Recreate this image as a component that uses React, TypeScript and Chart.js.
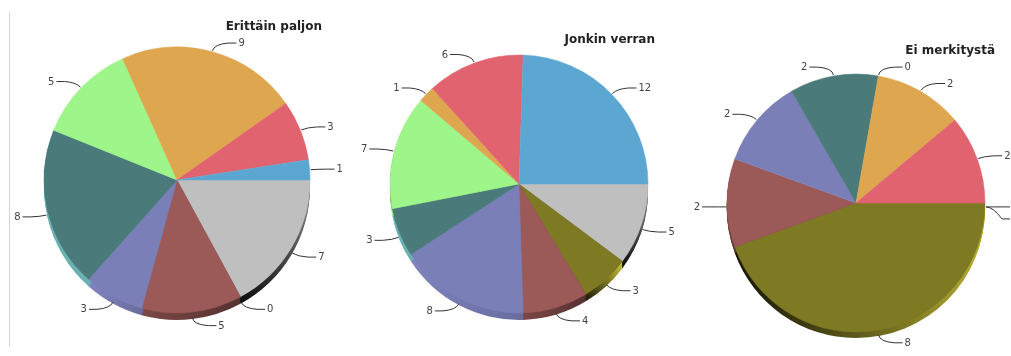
import React, { useEffect, useRef } from "react";
import { Chart, registerables } from "chart.js";

Chart.register(...registerables);

// Categories, listed counter-clockwise from the 3 o'clock position
const categories = [
  "Vaihtoehto 1",
  "Vaihtoehto 2",
  "Vaihtoehto 3",
  "Vaihtoehto 4",
  "Vaihtoehto 5",
  "Vaihtoehto 6",
  "Vaihtoehto 7",
  "Vaihtoehto 8",
  "Vaihtoehto 9",
];
const sliceColors = [
  "#5ca6d2",
  "#e0636f",
  "#dea74f",
  "#9ef589",
  "#4a7a7a",
  "#7a7fb8",
  "#9b5a58",
  "#7e7923",
  "#bfbfbf",
];
// shading of the 3D rim: [factor at slice start, factor at slice end] (counter-clockwise)
const rimShades: [number, number][] = [
  [0.6, 1.0],
  [0.6, 1.0],
  [0.6, 1.0],
  [0.6, 1.0],
  [1.45, 1.45],
  [1.05, 0.85],
  [0.8, 0.55],
  [0.2, 1.5],
  [0.05, 0.75],
];

const titles = ["Erittäin paljon", "Jonkin verran", "Ei merkitystä"];
const valuesErittainPaljon = [1, 3, 9, 5, 8, 3, 5, 0, 7];
const valuesJonkinVerran = [12, 6, 1, 7, 3, 8, 4, 3, 5];
const valuesEiMerkitysta = [0, 2, 2, 0, 2, 2, 2, 8, 0];

const W = 1011;
const H = 356;

const layouts = [
  { cx: 177, cy: 180, r: 133, depth: 7, titleX: 322, titleY: 30 },
  { cx: 519, cy: 184, r: 129, depth: 7, titleX: 655, titleY: 43 },
  { cx: 856, cy: 203, r: 129, depth: 6, titleX: 995, titleY: 54 },
];

function shade(hex: string, f: number): string {
  const n = parseInt(hex.slice(1), 16);
  const r = Math.min(255, Math.round(((n >> 16) & 255) * f));
  const g = Math.min(255, Math.round(((n >> 8) & 255) * f));
  const b = Math.min(255, Math.round((n & 255) * f));
  return `rgb(${r},${g},${b})`;
}

function makePlugin(idx: number) {
  const L = layouts[idx];
  const n = categories.length;
  return {
    id: "pie3d" + idx,
    beforeDatasetsDraw(chart: any) {
      const meta = chart.getDatasetMeta(0);
      const ctx = chart.ctx;
      const depth = L.depth;
      ctx.save();
      meta.data.forEach((arc: any, i: number) => {
        const p = arc.getProps(["x", "y", "startAngle", "endAngle", "outerRadius"], true);
        const s = p.startAngle;
        const e = p.endAngle;
        if (e - s <= 1e-6) return;
        const a0 = Math.max(s, 0);
        const a1 = Math.min(e, Math.PI);
        if (a1 <= a0) return;
        const R = p.outerRadius;
        const col = arc.options.backgroundColor as string;
        const [fStart, fEnd] = rimShades[n - 1 - i];
        // counter-clockwise start is canvas angle a1, end is a0
        const g = ctx.createLinearGradient(
          p.x + R * Math.cos(a1),
          p.y + R * Math.sin(a1) + depth,
          p.x + R * Math.cos(a0) + 0.01,
          p.y + R * Math.sin(a0) + depth
        );
        g.addColorStop(0, shade(col, fStart));
        g.addColorStop(1, shade(col, fEnd));
        ctx.fillStyle = g;
        for (let d = depth; d >= 1; d--) {
          ctx.beginPath();
          ctx.moveTo(p.x, p.y + d);
          ctx.arc(p.x, p.y + d, R, s, e);
          ctx.closePath();
          ctx.fill();
        }
      });
      ctx.restore();
    },
    afterDatasetsDraw(chart: any) {
      const meta = chart.getDatasetMeta(0);
      const ctx = chart.ctx;
      const values = chart.data.datasets[0].data as number[];
      const items: any[] = [];
      meta.data.forEach((arc: any, i: number) => {
        const p = arc.getProps(["x", "y", "startAngle", "endAngle", "outerRadius"], true);
        const mid = (p.startAngle + p.endAngle) / 2;
        const c = Math.cos(mid);
        const sc = Math.sin(mid);
        const up = -sc;
        const R = p.outerRadius + 1;
        const sx = p.x + R * c;
        let sy = p.y + R * sc;
        if (up < 0.01) sy += L.depth * 0.65;
        const side = c >= 0 ? 1 : -1;
        const ex = sx + side * 24;
        const ey = sy - up * 8;
        items.push({ sx, sy, ex, ey, side, c, sc, text: String(values[i]) });
      });
      // simple collision avoidance per side
      [1, -1].forEach((sd) => {
        const list = items.filter((it) => it.side === sd).sort((a, b) => a.ey - b.ey);
        for (let k = 1; k < list.length; k++) {
          if (list[k].ey < list[k - 1].ey + 12) list[k].ey = list[k - 1].ey + 12;
        }
      });
      ctx.save();
      ctx.strokeStyle = "#333";
      ctx.lineWidth = 1;
      ctx.font = "10px 'DejaVu Sans'";
      ctx.fillStyle = "#444";
      ctx.textBaseline = "middle";
      items.forEach((it) => {
        ctx.beginPath();
        ctx.moveTo(it.sx, it.sy);
        ctx.quadraticCurveTo(it.sx + it.c * 7, it.sy + it.sc * 7, it.ex - it.side * 8, it.ey);
        ctx.lineTo(it.ex, it.ey);
        ctx.stroke();
        ctx.textAlign = it.side > 0 ? "left" : "right";
        ctx.fillText(it.text, it.ex + it.side * 2, it.ey + 0.5);
      });
      ctx.font = "bold 12px 'DejaVu Sans'";
      ctx.fillStyle = "#222";
      ctx.textAlign = "right";
      ctx.textBaseline = "alphabetic";
      ctx.fillText(titles[idx], L.titleX, L.titleY);
      ctx.restore();
    },
  };
}

const allValues = [valuesErittainPaljon, valuesJonkinVerran, valuesEiMerkitysta];

export default function App() {
  const refs = [useRef<HTMLCanvasElement>(null), useRef<HTMLCanvasElement>(null), useRef<HTMLCanvasElement>(null)];

  useEffect(() => {
    document.body.style.margin = "0";
    const charts: Chart[] = [];
    allValues.forEach((vals, idx) => {
      const L = layouts[idx];
      const canvas = refs[idx].current;
      if (!canvas) return;
      // Chart.js draws clockwise; reverse so slices run counter-clockwise from 3 o'clock
      const data = [...vals].reverse();
      const labels = [...categories].reverse();
      const colors = [...sliceColors].reverse();
      const chart = new Chart(canvas, {
        type: "pie",
        data: {
          labels,
          datasets: [
            {
              data,
              backgroundColor: colors,
              borderColor: colors,
              borderWidth: 0.5,
              rotation: 90,
              radius: L.r,
            } as any,
          ],
        },
        options: {
          responsive: false,
          animation: false,
          events: [],
          layout: {
            padding: {
              left: L.cx - L.r,
              top: L.cy - L.r,
              right: W - L.cx - L.r,
              bottom: H - L.cy - L.r,
            },
          },
          plugins: {
            legend: { display: false },
            tooltip: { enabled: false },
            title: { display: false },
          },
        },
        plugins: [makePlugin(idx)],
      });
      charts.push(chart);
    });
    return () => charts.forEach((c) => c.destroy());
  }, []);

  return (
    <div style={{ position: "relative", width: W, height: H, overflow: "hidden", background: "#fff" }}>
      <div style={{ position: "absolute", left: 9, top: 12, width: 1, height: 335, background: "#d6d6d6" }} />
      {refs.map((r, i) => (
        <canvas
          key={i}
          ref={r}
          width={W}
          height={H}
          style={{ position: "absolute", left: 0, top: 0, width: W, height: H }}
        />
      ))}
    </div>
  );
}
